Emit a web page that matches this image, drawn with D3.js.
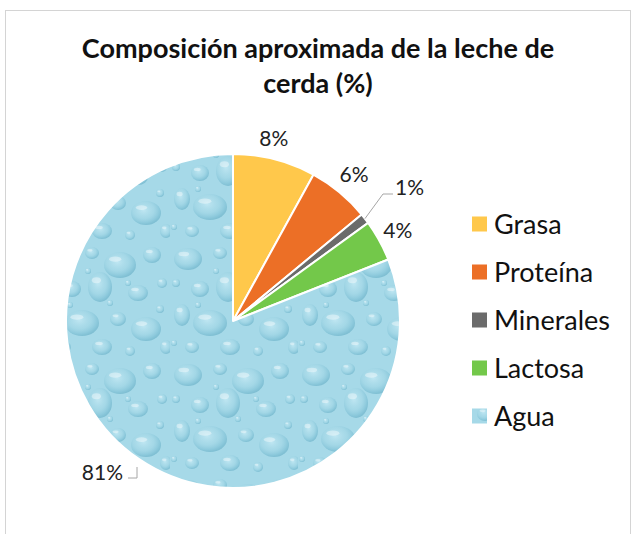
<!DOCTYPE html>
<html>
<head>
<meta charset="utf-8">
<script src="https://cdn.jsdelivr.net/npm/d3@7"></script>
<style>
  html, body { margin: 0; padding: 0; background: #fff; }
  svg { display: block; }
</style>
</head>
<body>
<svg id="chart" width="635" height="534"></svg>
<script>
// Composition of sow's milk (%)
const categories = ["Grasa", "Proteína", "Minerales", "Lactosa", "Agua"];
const values = [8, 6, 1, 4, 81];
const colors = ["#FFC84B", "#EC6F26", "#6B6B6B", "#73C84A", "#A6DAE8"];
const titleLines = ["Composición aproximada de la leche de", "cerda (%)"];

const svg = d3.select("#chart");
const font = "Lato, 'Open Sans', sans-serif";

// outer frame
svg.append("rect")
  .attr("x", 5.5).attr("y", 10.5)
  .attr("width", 625).attr("height", 600)
  .attr("fill", "#fff").attr("stroke", "#d4d4d4").attr("stroke-width", 1);

// water-drop texture for the "Agua" slice
const defs = svg.append("defs");
const dropGrad = defs.append("radialGradient").attr("id", "drop")
  .attr("cx", "42%").attr("cy", "38%").attr("r", "62%");
dropGrad.append("stop").attr("offset", "0%").attr("stop-color", "#c4e9f4").attr("stop-opacity", 0.85);
dropGrad.append("stop").attr("offset", "55%").attr("stop-color", "#a3d7e6").attr("stop-opacity", 0.6);
dropGrad.append("stop").attr("offset", "85%").attr("stop-color", "#84c4d8").attr("stop-opacity", 0.75);
dropGrad.append("stop").attr("offset", "100%").attr("stop-color", "#6fb4ca").attr("stop-opacity", 0.7);

const tileW = 128, tileH = 116;
const pat = defs.append("pattern").attr("id", "water")
  .attr("patternUnits", "userSpaceOnUse")
  .attr("x", 65).attr("y", 154)
  .attr("width", tileW).attr("height", tileH);
pat.append("rect").attr("width", tileW).attr("height", tileH).attr("fill", "#A6D9E8");
// drop layout within one tile: [cx, cy, rx, ry]
const drops = [
  [18, 16, 14, 11], [50, 10, 7, 6], [78, 22, 16, 13], [110, 12, 9, 8],
  [30, 46, 9, 8], [58, 44, 12, 15], [96, 50, 10, 8], [120, 40, 5, 5],
  [12, 72, 8, 11], [40, 80, 17, 13], [76, 76, 8, 7], [104, 86, 15, 12],
  [22, 104, 7, 6], [60, 104, 10, 8], [88, 108, 5, 5], [124, 104, 6, 7],
  [6, 40, 4, 4], [68, 60, 3, 3], [118, 66, 4, 4], [46, 28, 3, 3],
  [86, 40, 3, 3], [28, 62, 3, 3], [4, 100, 3, 3]
];
drops.forEach(([x, y, rx, ry]) => {
  pat.append("ellipse").attr("cx", x).attr("cy", y).attr("rx", rx).attr("ry", ry)
    .attr("fill", "url(#drop)");
  pat.append("ellipse").attr("cx", x - rx * 0.3).attr("cy", y - ry * 0.45)
    .attr("rx", rx * 0.38).attr("ry", ry * 0.2)
    .attr("fill", "#ffffff").attr("opacity", 0.4);
});

const fills = colors.map((c, i) => categories[i] === "Agua" ? "url(#water)" : c);

// title
const title = svg.append("text")
  .attr("text-anchor", "middle")
  .attr("font-family", font)
  .attr("font-weight", "bold")
  .attr("font-size", 27)
  .attr("fill", "#111");
titleLines.forEach((t, i) => {
  title.append("tspan").attr("x", 318).attr("y", 58 + i * 35).text(t);
});

// pie
const cx = 233, cy = 321, R = 167;
const pie = d3.pie().sort(null).value(d => d)(values);
const arc = d3.arc().innerRadius(0).outerRadius(R);
const g = svg.append("g").attr("transform", `translate(${cx},${cy})`);

g.selectAll("path.slice")
  .data(pie)
  .join("path")
  .attr("class", "slice")
  .attr("d", arc)
  .attr("fill", (d, i) => fills[i])
  .attr("stroke", "#fff")
  .attr("stroke-width", 2)
  .attr("stroke-linejoin", "round");

// data labels
const pt = (angle, r) => [Math.sin(angle) * r, -Math.cos(angle) * r];
const mid = d => (d.startAngle + d.endAngle) / 2;
const labelR = [188, 190, 0, 188, 0];
const labelDx = [-6, 0, 0, 0, 0];
const labelSize = 21;

pie.forEach((d, i) => {
  const txt = values[i] + "%";
  if (categories[i] === "Minerales") {
    const p0 = pt(mid(d), R);
    const p1 = [150, -127];
    const p2 = [160, -127];
    g.append("polyline")
      .attr("points", [p0, p1, p2].map(p => p.join(",")).join(" "))
      .attr("fill", "none").attr("stroke", "#a6a6a6").attr("stroke-width", 1);
    g.append("text").attr("x", 162).attr("y", -126)
      .attr("font-family", font).attr("font-size", labelSize).attr("fill", "#222")
      .text(txt);
  } else if (categories[i] === "Agua") {
    g.append("polyline")
      .attr("points", [[-96, 146], [-96, 157], [-105, 157]].map(p => p.join(",")).join(" "))
      .attr("fill", "none").attr("stroke", "#a6a6a6").attr("stroke-width", 1);
    g.append("text").attr("x", -110).attr("y", 159)
      .attr("text-anchor", "end")
      .attr("font-family", font).attr("font-size", labelSize).attr("fill", "#222")
      .text(txt);
  } else {
    const p = pt(mid(d), labelR[i]);
    g.append("text").attr("x", p[0] + labelDx[i]).attr("y", p[1])
      .attr("dy", "0.36em")
      .attr("text-anchor", "middle")
      .attr("font-family", font).attr("font-size", labelSize).attr("fill", "#222")
      .text(txt);
  }
});

// legend
const legend = svg.append("g").attr("transform", "translate(472,224)");
const rows = legend.selectAll("g").data(categories).join("g")
  .attr("transform", (d, i) => `translate(0,${i * 48})`);
rows.append("rect")
  .attr("x", 0).attr("y", -7.5).attr("width", 15).attr("height", 15)
  .attr("fill", (d, i) => fills[i]);
rows.append("text")
  .attr("x", 22).attr("y", 9.5)
  .attr("font-family", font).attr("font-size", 27).attr("fill", "#111")
  .text(d => d);
</script>
</body>
</html>
